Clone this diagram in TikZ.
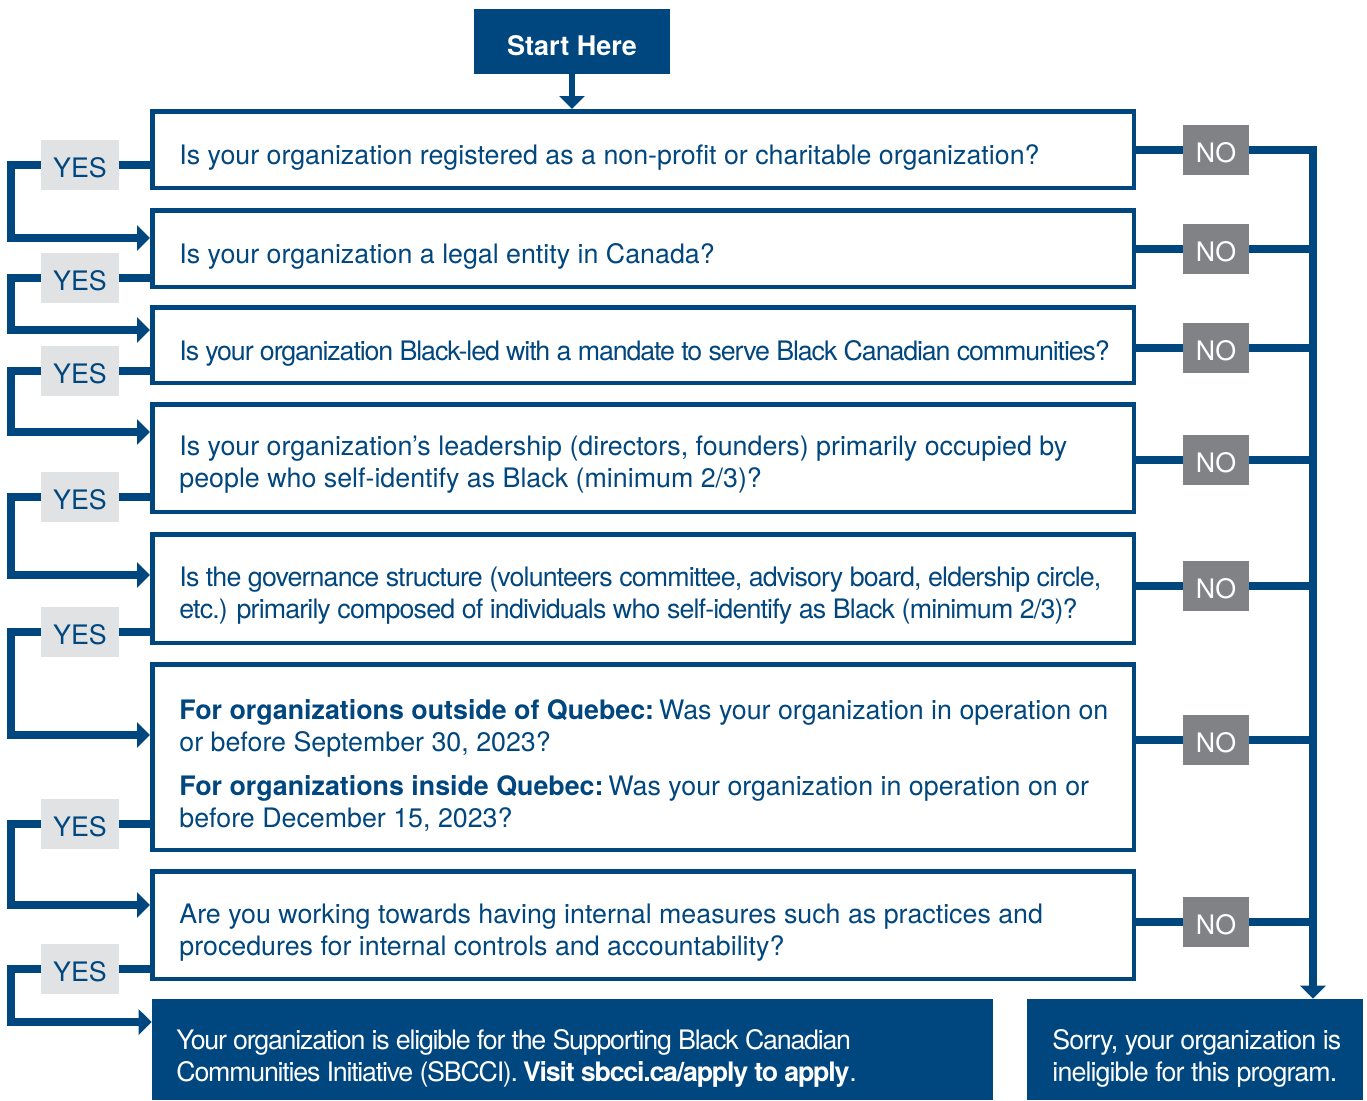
\documentclass[tikz,border=0pt]{standalone}
\usepackage{fontspec}
\setmainfont{TeX Gyre Heros}
\newfontfamily\tightA[LetterSpace=-4.2]{TeX Gyre Heros}
\newfontfamily\tightB[LetterSpace=-3.2]{TeX Gyre Heros}
\newfontfamily\tightC[LetterSpace=-4.6]{TeX Gyre Heros}
\newfontfamily\tightD[LetterSpace=-3.3]{TeX Gyre Heros}
\usetikzlibrary{arrows.meta}
\definecolor{sbblue}{HTML}{00467F}
\definecolor{nogrey}{HTML}{808285}
\definecolor{yesgrey}{HTML}{E1E2E3}
\newcommand{\fsz}{\fontsize{13.4pt}{16pt}}
\begin{document}
\begin{tikzpicture}[x=0.5pt,y=-0.5pt,
  qbox/.style={draw=sbblue, line width=2.25pt, fill=white, minimum width=490.75pt, inner sep=0pt},
  qtext/.style={anchor=west, align=left, text=sbblue, inner sep=0pt, font=\fsz\selectfont},
  wtext/.style={anchor=west, align=left, text=white, inner sep=0pt, font=\fsz\selectfont},
  endbox/.style={fill=sbblue, inner sep=0pt, minimum height=50.5pt},
  yesbox/.style={fill=yesgrey, text=sbblue, minimum width=39pt, minimum height=25pt, inner sep=0pt, text height=12.6pt, text depth=0pt, font=\fsz\selectfont},
  nobox/.style={fill=nogrey, text=white, minimum width=33pt, minimum height=25pt, inner sep=0pt, text height=12.6pt, text depth=0pt, font=\fsz\selectfont},
  yesline/.style={draw=sbblue, line width=4pt},
  noline/.style={draw=sbblue, line width=3.6pt},
  tip/.style={-{Triangle[length=6.5pt,width=12.5pt]}}
]
\useasboundingbox (0,0) rectangle (1367,1100);

% start
\node[fill=sbblue, text=white, minimum width=98pt, minimum height=32.5pt, inner sep=0pt,
  text height=13.7pt, text depth=0pt,
  font=\fontsize{13.5pt}{16pt}\selectfont\bfseries] (start) at (572,41.5) {Start Here};

% question boxes
\node[qbox, minimum height=38.25pt] (q1) at (643,149.5) {};
\node[qbox, minimum height=38.25pt] (q2) at (643,248.5) {};
\node[qbox, minimum height=37.75pt] (q3) at (643,345) {};
\node[qbox, minimum height=53.75pt] (q4) at (643,458) {};
\node[qbox, minimum height=54.25pt] (q5) at (643,588.5) {};
\node[qbox, minimum height=92.75pt] (q6) at (643,757) {};
\node[qbox, minimum height=53.75pt] (q7) at (643,925) {};

\node[qtext] (t1) at (179,157) {Is your organization registered as a non-profit or charitable organization?};
\node[qtext] (t2) at (179,256) {Is your organization a legal entity in Canada?};
\node[qtext, font=\fsz\tightA] (t3) at (179,353) {Is your organization Black-led with a mandate to serve Black Canadian communities?};
\node[qtext] (t4) at (179,465) {Is your organization’s leadership (directors, founders) primarily occupied by\\people who self-identify as Black (minimum 2/3)?};
\node[qtext, font=\fsz\tightB] (t5) at (179,596) {Is the governance structure (volunteers committee, advisory board, eldership circle,\\etc.) primarily composed of individuals who self-identify as Black (minimum 2/3)?};
\node[qtext] (t6) at (179,765) {\textbf{For organizations outside of Quebec:}\hspace{-2.5pt} Was your organization in operation on\\or before September 30, 2023?\\[6pt]\textbf{For organizations inside Quebec:}\hspace{-2.5pt} Was your organization in operation on or\\before December 15, 2023?};
\node[qtext] (t7) at (179,933) {Are you working towards having internal measures such as practices and\\procedures for internal controls and accountability?};

% end boxes
\node[endbox, minimum width=420.5pt] (elig) at (572.5,1049.5) {};
\node[endbox, minimum width=168pt] (inel) at (1195,1049.5) {};
\node[wtext, font=\fsz\tightC] (eligt) at (176,1058) {Your organization is eligible for the Supporting Black Canadian\\Communities Initiative (SBCCI). \textbf{Visit sbcci.ca/apply to apply}.};
\node[wtext, font=\fsz\tightD] (inelt) at (1052,1058) {Sorry, your organization is\\ineligible for this program.};

% YES labels
\node[yesbox] (y1) at (80,165) {YES};
\node[yesbox] (y2) at (80,278) {YES};
\node[yesbox] (y3) at (80,371) {YES};
\node[yesbox] (y4) at (80,497) {YES};
\node[yesbox] (y5) at (80,632) {YES};
\node[yesbox] (y6) at (80,824) {YES};
\node[yesbox] (y7) at (80,969) {YES};

% NO labels
\node[nobox] (n1) at (1216,150) {NO};
\node[nobox] (n2) at (1216,249) {NO};
\node[nobox] (n3) at (1216,348) {NO};
\node[nobox] (n4) at (1216,460) {NO};
\node[nobox] (n5) at (1216,586) {NO};
\node[nobox] (n6) at (1216,740) {NO};
\node[nobox] (n7) at (1216,922) {NO};

% entry points
\coordinate (i2) at (0,238);
\coordinate (i3) at (0,330);
\coordinate (i4) at (0,432);
\coordinate (i5) at (0,575);
\coordinate (i6) at (0,735);
\coordinate (i7) at (0,905);
\coordinate (i8) at (0,1022);
\coordinate (rv) at (1313,150);

% start arrow
\draw[draw=sbblue, line width=3pt, tip] (start.south) -- (start.south |- q1.north);

% YES connectors
\draw[yesline] (q1.west |- y1) -- (y1.east);
\draw[yesline, tip] (y1.west) -- (11,165) |- (q2.west |- i2);
\draw[yesline] (q2.west |- y2) -- (y2.east);
\draw[yesline, tip] (y2.west) -- (11,278) |- (q3.west |- i3);
\draw[yesline] (q3.west |- y3) -- (y3.east);
\draw[yesline, tip] (y3.west) -- (11,371) |- (q4.west |- i4);
\draw[yesline] (q4.west |- y4) -- (y4.east);
\draw[yesline, tip] (y4.west) -- (11,497) |- (q5.west |- i5);
\draw[yesline] (q5.west |- y5) -- (y5.east);
\draw[yesline, tip] (y5.west) -- (11,632) |- (q6.west |- i6);
\draw[yesline] (q6.west |- y6) -- (y6.east);
\draw[yesline, tip] (y6.west) -- (11,824) |- (q7.west |- i7);
\draw[yesline] (q7.west |- y7) -- (y7.east);
\draw[yesline, tip] (y7.west) -- (11,969) |- (elig.west |- i8);

% NO connectors
\draw[noline] (q1.east |- n1) -- (n1.west);
\draw[noline, tip] (n1.east) -- (rv) -- (rv |- inel.north);
\draw[noline] (q2.east |- n2) -- (n2.west);
\draw[noline] (n2.east) -- (rv |- n2);
\draw[noline] (q3.east |- n3) -- (n3.west);
\draw[noline] (n3.east) -- (rv |- n3);
\draw[noline] (q4.east |- n4) -- (n4.west);
\draw[noline] (n4.east) -- (rv |- n4);
\draw[noline] (q5.east |- n5) -- (n5.west);
\draw[noline] (n5.east) -- (rv |- n5);
\draw[noline] (q6.east |- n6) -- (n6.west);
\draw[noline] (n6.east) -- (rv |- n6);
\draw[noline] (q7.east |- n7) -- (n7.west);
\draw[noline] (n7.east) -- (rv |- n7);
\end{tikzpicture}
\end{document}
